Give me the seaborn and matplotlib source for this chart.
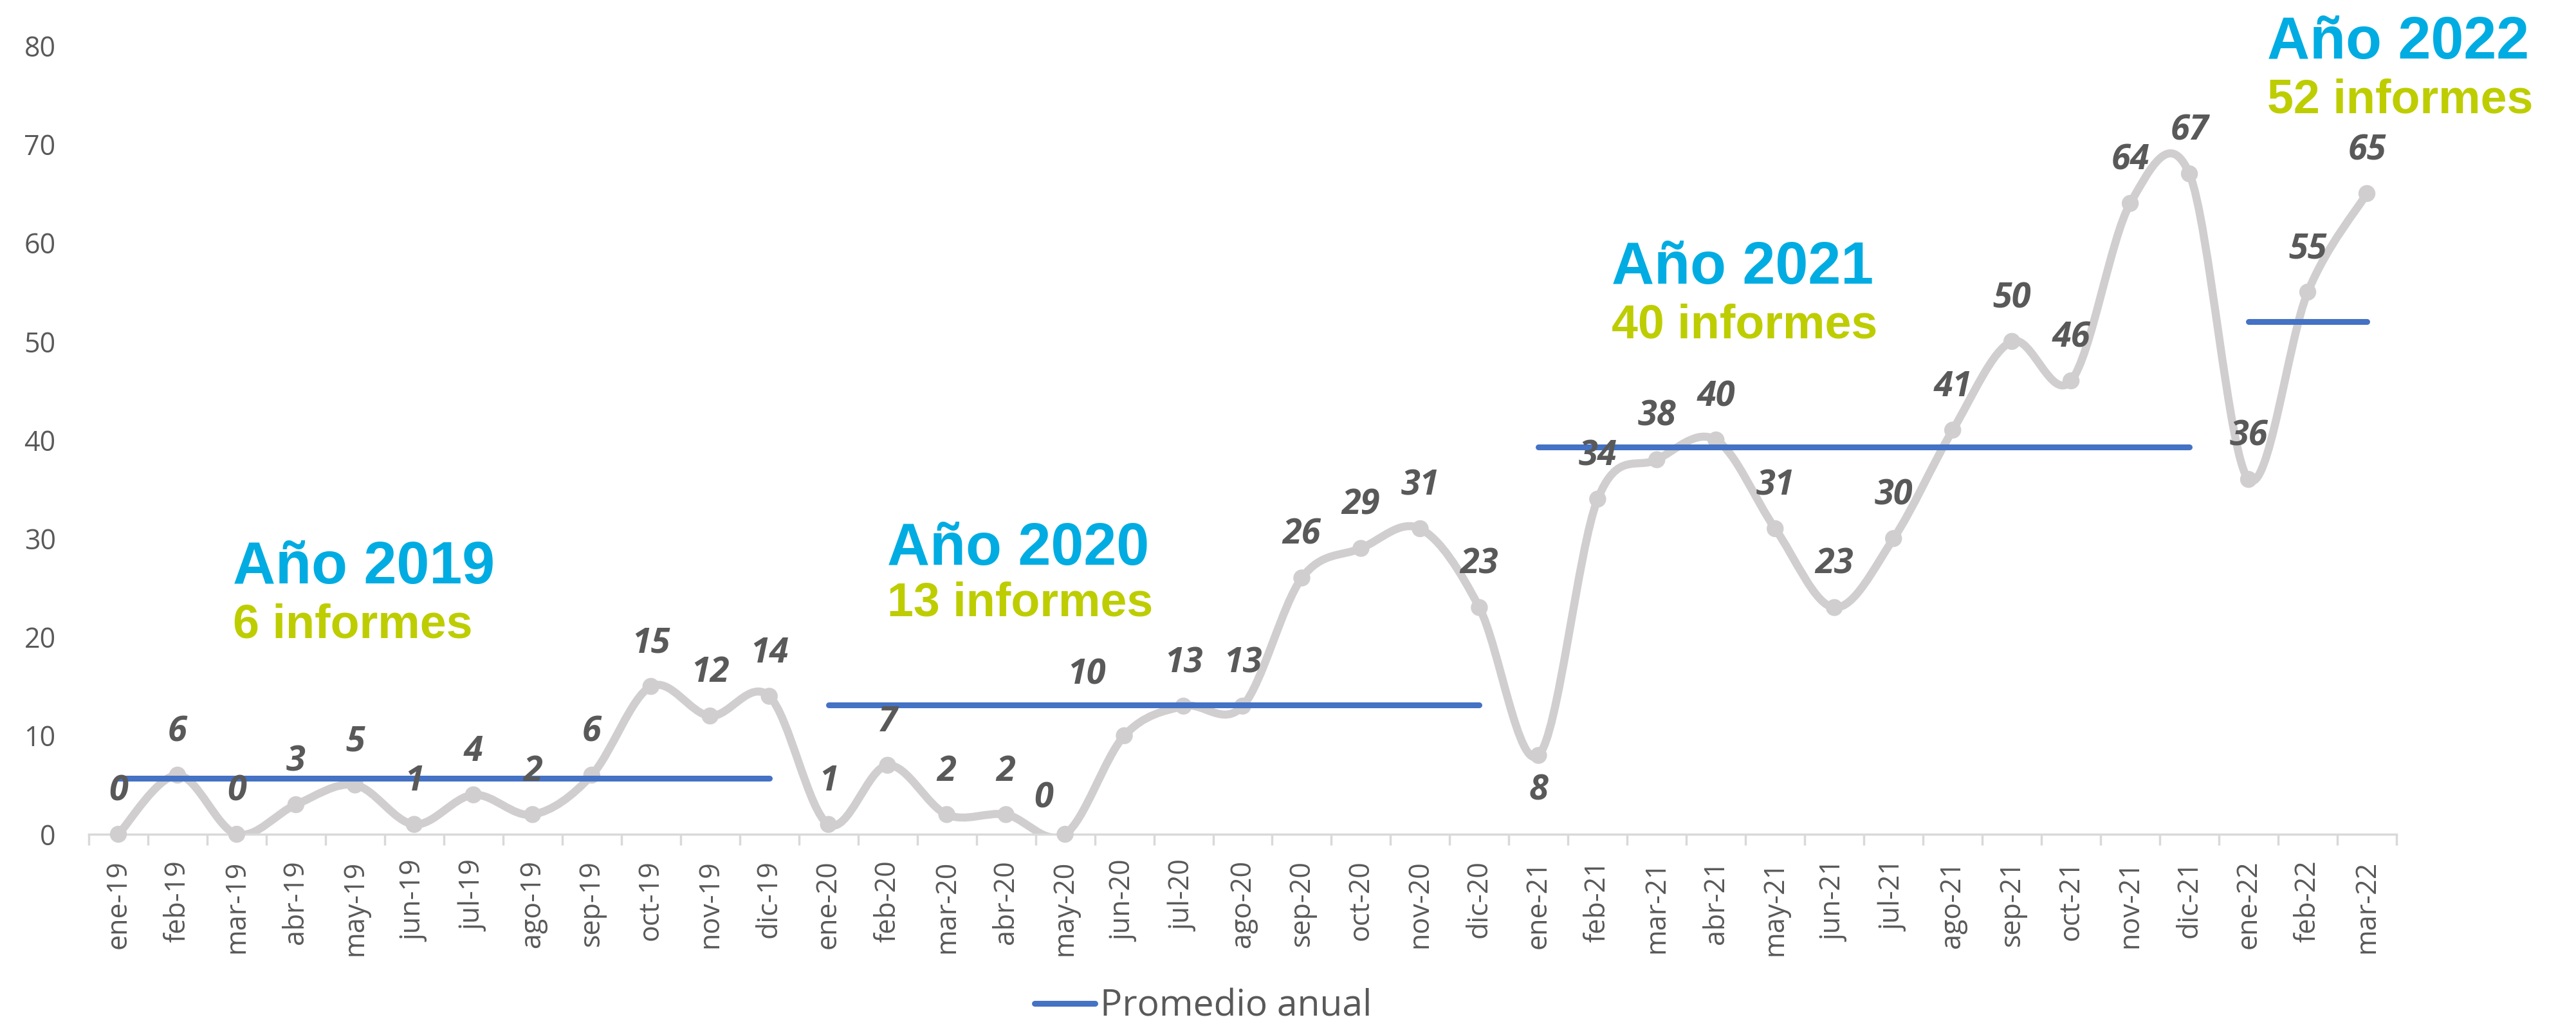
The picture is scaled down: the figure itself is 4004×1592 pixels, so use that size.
import numpy as np
import pandas as pd
import matplotlib
matplotlib.use("Agg")
import matplotlib.pyplot as plt
import seaborn as sns
from matplotlib.path import Path
from matplotlib.patches import PathPatch
from matplotlib.lines import Line2D

# ---------------- datos ----------------
meses = ["ene-19", "feb-19", "mar-19", "abr-19", "may-19", "jun-19", "jul-19", "ago-19",
         "sep-19", "oct-19", "nov-19", "dic-19",
         "ene-20", "feb-20", "mar-20", "abr-20", "may-20", "jun-20", "jul-20", "ago-20",
         "sep-20", "oct-20", "nov-20", "dic-20",
         "ene-21", "feb-21", "mar-21", "abr-21", "may-21", "jun-21", "jul-21", "ago-21",
         "sep-21", "oct-21", "nov-21", "dic-21",
         "ene-22", "feb-22", "mar-22"]
informes = [0, 6, 0, 3, 5, 1, 4, 2, 6, 15, 12, 14,
            1, 7, 2, 2, 0, 10, 13, 13, 26, 29, 31, 23,
            8, 34, 38, 40, 31, 23, 30, 41, 50, 46, 64, 67,
            36, 55, 65]
anios = ["2019"] * 12 + ["2020"] * 12 + ["2021"] * 12 + ["2022"] * 3
promedio_anual = {"2019": 5.7, "2020": 13.1, "2021": 39.3, "2022": 52.0}
titulos = ["Año 2019", "Año 2020", "Año 2021", "Año 2022"]
subtitulos = ["6 informes", "13 informes", "40 informes", "52 informes"]

# ---------------- estilo ----------------
GRIS = "#D0CECE"
AZUL = "#4472C4"
TEXTO = "#595959"
CIAN = "#00ACE1"
VERDE = "#BDCD00"

sns.set_theme(style="white")
plt.rcParams["font.family"] = ["Open Sans", "DejaVu Sans"]

df = pd.DataFrame({"mes": meses, "informes": informes, "anio": anios})
df["pos"] = np.arange(len(df))
df["promedio"] = df["anio"].map(promedio_anual)

fig = plt.figure(figsize=(40.04, 15.92), dpi=100)
W, H = 4004, 1592
ax = fig.add_axes([138 / W, 1 - 1297 / H, (3725 - 138) / W, (1297 - 71) / H])


# curva suavizada (bezier tipo Excel) en coordenadas de datos
def curva_suave(xs, ys, t=1 / 6):
    verts = [(xs[0], ys[0])]
    codes = [Path.MOVETO]
    n = len(xs)
    for i in range(n - 1):
        x0, y0 = (xs[i - 1], ys[i - 1]) if i > 0 else (xs[i], ys[i])
        x3, y3 = (xs[i + 2], ys[i + 2]) if i + 2 < n else (xs[i + 1], ys[i + 1])
        c1 = (xs[i] + (xs[i + 1] - x0) * t, ys[i] + (ys[i + 1] - y0) * t)
        c2 = (xs[i + 1] - (x3 - xs[i]) * t, ys[i + 1] - (y3 - ys[i]) * t)
        verts += [c1, c2, (xs[i + 1], ys[i + 1])]
        codes += [Path.CURVE4] * 3
    return Path(verts, codes)


ax.add_patch(PathPatch(curva_suave(df["pos"].values, df["informes"].values),
                       facecolor="none", edgecolor=GRIS, lw=9, zorder=2,
                       capstyle="round", joinstyle="round"))
sns.scatterplot(data=df, x="pos", y="informes", color=GRIS, s=19 ** 2,
                edgecolor="none", zorder=3, ax=ax, legend=False, clip_on=False)

# promedio anual
sns.lineplot(data=df, x="pos", y="promedio", units="anio", estimator=None,
             color=AZUL, lw=6.5, zorder=4, ax=ax, legend=False,
             solid_capstyle="round")

# etiquetas de datos
desplazamientos = {"may-20": (-24, 40), "jun-20": (-42, 68), "ene-21": (0, -40)}
for p, m, v in zip(df["pos"], df["mes"], df["informes"]):
    ax.annotate(str(v), (p, v), xytext=desplazamientos.get(m, (0, 48)),
                textcoords="offset points", ha="center", va="center",
                fontsize=39, fontweight="bold", fontstyle="italic",
                color=TEXTO, zorder=5)

# ejes
ax.set_xlim(-0.5, len(meses) - 0.5)
ax.set_ylim(0, 80)
ax.set_yticks(range(0, 81, 10))
ax.set_xticks(df["pos"], meses, rotation=90)
ax.set_xticks(np.arange(-0.5, len(meses), 1), minor=True)
ax.tick_params(axis="x", which="major", length=0, pad=29, labelsize=31, labelcolor=TEXTO)
ax.tick_params(axis="x", which="minor", length=12, width=2.5, color="#D9D9D9",
               direction="out", bottom=True)
ax.tick_params(axis="y", length=0, pad=37, labelsize=31, labelcolor=TEXTO)
ax.set_xlabel("")
ax.set_ylabel("")
for s in ["left", "top", "right"]:
    ax.spines[s].set_visible(False)
ax.spines["bottom"].set_color("#D9D9D9")
ax.spines["bottom"].set_linewidth(2.5)
ax.grid(False)

# leyenda
ax.legend(handles=[Line2D([0], [0], color=AZUL, lw=6.5, solid_capstyle="round")],
          labels=["Promedio anual"], loc="center",
          bbox_to_anchor=(1870 / W, 1 - 1565 / H), bbox_transform=fig.transFigure,
          frameon=False, fontsize=41, handlelength=1.65, handletextpad=0.15,
          labelcolor=TEXTO)

# rótulos por año
posiciones = [(362, 907, 991), (1379, 878, 958), (2505, 441, 526), (3524, 91, 176)]
for titulo, sub, (x, y1, y2) in zip(titulos, subtitulos, posiciones):
    fig.text(x / W, 1 - y1 / H, titulo, color=CIAN, fontsize=66, fontweight="bold",
             family=["Liberation Sans", "DejaVu Sans"], va="baseline", ha="left")
    fig.text(x / W, 1 - y2 / H, sub, color=VERDE, fontsize=53, fontweight="bold",
             family=["Liberation Sans", "DejaVu Sans"], va="baseline", ha="left")

fig.savefig("out.png", dpi=100, facecolor="white")
